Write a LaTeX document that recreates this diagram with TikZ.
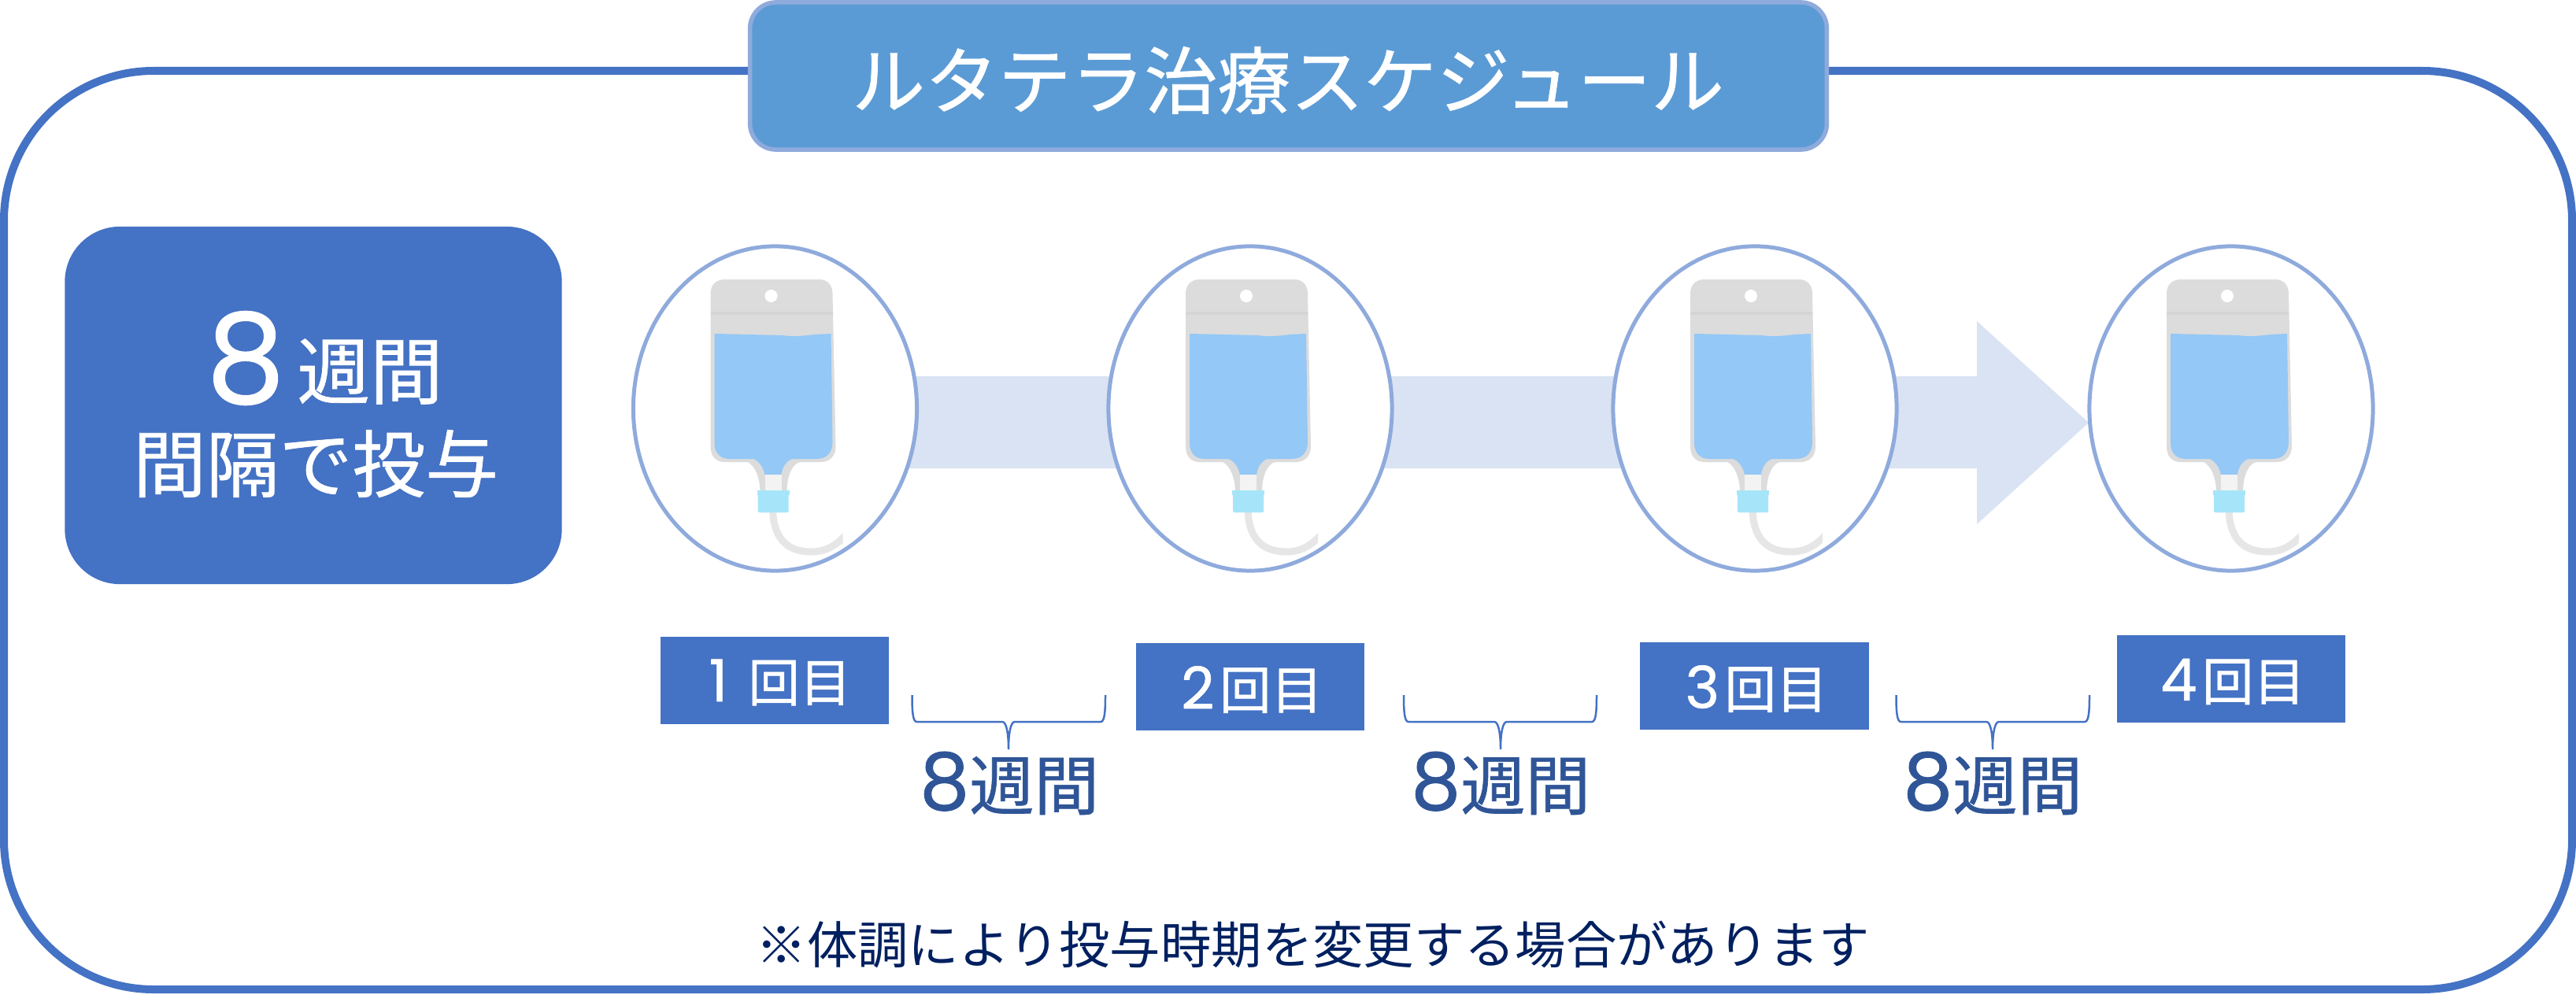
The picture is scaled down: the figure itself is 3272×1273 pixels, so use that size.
\documentclass[tikz,border=0pt]{standalone}
\usepackage{fontspec}
\usetikzlibrary{shapes.geometric}
\setmainfont[FakeBold=0.8]{Noto Sans CJK JP}
\newfontfamily\digitfont[FakeBold=0.8]{Poppins}
\newfontfamily\notefont{Noto Sans CJK JP}
\newcommand{\jpsize}[1]{\fontsize{#1pt}{#1pt}\selectfont}
\newcommand{\labeldigit}[1]{{\digitfont\jpsize{21}#1}}
\newcommand{\weekdigit}{{\digitfont\jpsize{28.5}8}}
\definecolor{frameblue}{HTML}{4472C4}
\definecolor{titlefill}{HTML}{5B9BD5}
\definecolor{paleblue}{HTML}{8FAADC}
\definecolor{arrowpale}{HTML}{DAE3F3}
\definecolor{weekblue}{HTML}{2F5597}
\definecolor{notenavy}{HTML}{002060}
\definecolor{baggray}{HTML}{DCDCDC}
\definecolor{bagband}{HTML}{D4D4D4}
\definecolor{bagblue}{HTML}{94C8F6}
\definecolor{bagcap}{HTML}{A6E5F9}
\definecolor{bagneck}{HTML}{F3F3F3}
\definecolor{bagtube}{HTML}{E6E6E6}
\tikzset{
  x=0.01cm,y=-0.01cm,
  txt/.style={inner sep=0pt,outer sep=0pt,font=\jpsize{#1}},
  whitetxt/.style={txt=#1,text=white},
  weektxt/.style={txt=23.4,text=weekblue},
  dosebox/.style={fill=frameblue,draw=none,inner sep=0pt,outer sep=0pt,minimum width=2.9cm,minimum height=1.11cm},
  bagcircle/.style={ellipse,draw=paleblue,fill=white,line width=0.05cm,inner sep=0pt,minimum width=3.6cm,minimum height=4.12cm},
  weekbrace/.style={draw=frameblue,line width=0.025cm},
  bag/.pic={
    \begin{scope}
      \clip (-40,120) rectangle (86,200);
      \draw[bagtube,line width=0.09cm] (-3,125) .. controls (-3,165) and (15,182) .. (46,182) .. controls (62,182) and (77,176) .. (92,158);
    \end{scope}
    \fill[baggray] (-82,-146) .. controls (-82,-158) and (-74,-164) .. (-64,-164) -- (56,-164) .. controls (67,-164) and (73,-156) .. (73,-146) -- (77,48) .. controls (77,60) and (70,68) .. (58,68) -- (32,68) .. controls (22,70) and (15,85) .. (15,106) -- (-19,106) .. controls (-19,88) and (-26,72) .. (-35,68) -- (-64,68) .. controls (-76,68) and (-82,60) .. (-82,48) -- cycle;
    \fill[bagband] (-82,-123) rectangle (73,-119);
    \fill[white] (-5,-143) circle[radius=0.08cm];
    \fill[bagblue] (-77,-95) -- (10,-93) .. controls (20,-91) and (35,-92) .. (50,-94) -- (71,-95) -- (73,42) .. controls (73,56) and (66,64) .. (52,64) -- (22,64) .. controls (15,66) and (9,74) .. (8,84) -- (-13,84) .. controls (-15,74) and (-21,66) .. (-28,64) -- (-58,64) .. controls (-70,64) and (-77,56) .. (-77,44) -- cycle;
    \fill[bagneck] (-13,84) rectangle (8,104);
    \fill[bagcap] (-23,104) rectangle (18,110);
    \fill[bagcap,rounded corners=0.015cm] (-22,108) rectangle (17,132);
  }
}
\begin{document}
\begin{tikzpicture}
\useasboundingbox (0,0) rectangle (3272,1273);
% frame
\draw[frameblue,line width=0.1cm,rounded corners=1.9cm] (5,90) rectangle (3267,1257);
% title
\node[draw=paleblue,fill=titlefill,line width=0.055cm,rounded corners=0.33cm,inner sep=0pt,minimum width=13.67cm,minimum height=1.87cm] (titlebox) at (1636.5,96.5) {};
\node[whitetxt=26.4] (titletext) at (1636,102) {ルタテラ治療スケジュール};
% left box
\node[fill=frameblue,rounded corners=0.7cm,inner sep=0pt,minimum width=6.31cm,minimum height=4.54cm] (leftbox) at (398,515) {};
\node[whitetxt=45,font=\digitfont\jpsize{45}] (bigeight) at (312,455) {8};
\node[whitetxt=26.3] (leftweeks) at (470,472) {週間};
\node[whitetxt=26.4] (leftinterval) at (401,589) {間隔で投与};
% arrow
\fill[arrowpale] (1000,478) -- (2511,478) -- (2511,408) -- (2653,537) -- (2511,666) -- (2511,595) -- (1000,595) -- cycle;
% bags
\node[bagcircle] (e1) at (984.5,519) {};
\node[bagcircle] (e2) at (1588,519) {};
\node[bagcircle] (e3) at (2229,519) {};
\node[bagcircle] (e4) at (2834,519) {};
\pic at (e1) {bag};
\pic at (e2) {bag};
\pic at (e3) {bag};
\pic at (e4) {bag};
% dose labels
\node[dosebox] (d1) at (984,864.5) {};
\node[dosebox] (d2) at (1588,872.5) {};
\node[dosebox] (d3) at (2228.5,871.5) {};
\node[dosebox] (d4) at (2834,862.5) {};
\node[whitetxt=18.6] (t1) at (991,867) {\labeldigit{1}\hspace{0.4em}回目};
\node[whitetxt=18.6] (t2) at (1590,876) {\labeldigit{2}\hspace{0.1em}回目};
\node[whitetxt=18.6] (t3) at (2231,875) {\labeldigit{3}\hspace{0.1em}回目};
\node[whitetxt=18.6] (t4) at (2836,866) {\labeldigit{4}\hspace{0.1em}回目};
% braces
\foreach \a/\b/\c in {1158.5/1281/1404,1783/1906/2028,2408.5/2531/2654}{
  \draw[weekbrace] (\a,883) .. controls (\a,905) and (\a+1,917) .. (\a+6,917) -- (\b-8,917) .. controls (\b-3,917) and (\b,930) .. (\b,952) .. controls (\b,930) and (\b+3,917) .. (\b+8,917) -- (\c-6,917) .. controls (\c-1,917) and (\c,905) .. (\c,883);
}
% weeks
\node[weektxt] (w1) at (1282,995) {\weekdigit 週間};
\node[weektxt] (w2) at (1906,995) {\weekdigit 週間};
\node[weektxt] (w3) at (2531,995) {\weekdigit 週間};
% note
\node[txt=18.3,text=notenavy] (note) at (1668,1200) {\notefont ※体調により投与時期を変更する場合があります};
\end{tikzpicture}
\end{document}
